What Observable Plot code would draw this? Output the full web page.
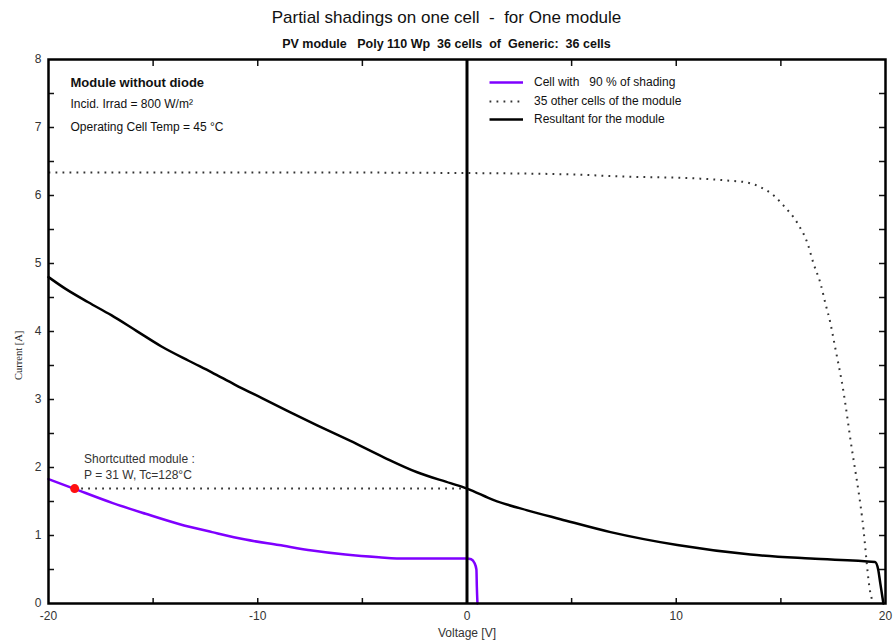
<!DOCTYPE html>
<html>
<head>
<meta charset="utf-8">
<script src="https://cdn.jsdelivr.net/npm/d3@7"></script>
<script src="https://cdn.jsdelivr.net/npm/@observablehq/plot@0.6"></script>
<style>
  html, body { margin: 0; padding: 0; background: #fff; }
  #wrap { position: relative; width: 893px; height: 643px; }
  .title { position: absolute; left: 0; width: 893px; text-align: center; white-space: pre; color: #111; }
  #t1 { top: 8px; font: 17px "Liberation Sans Narrow", "Liberation Sans", Arial, sans-serif; }
  #t2 { top: 37px; font: bold 12.5px "Liberation Sans Narrow", "Liberation Sans", Arial, sans-serif; }
  svg { position: absolute; left: 0; top: 0; }
</style>
</head>
<body>
<div id="wrap">
  <div class="title" id="t1">Partial shadings on one cell  -  for One module</div>
  <div class="title" id="t2">PV module   Poly 110 Wp  36 cells  of  Generic:  36 cells</div>
</div>
<script>
// Resultant I-V curve of the module
const voltBlack = [-20, -19.2, -18.1, -17, -15.8, -14.6, -13.3, -12.2, -11.1, -9.8, -8.75, -7.16, -5.57, -3.98, -2.38, -0.79, 0, 1.28, 2.88, 4.47, 6.86, 10.05, 13.55, 16.42, 19.5, 19.65, 19.75, 19.85, 19.9];
const currBlack = [4.8, 4.63, 4.43, 4.24, 4.01, 3.78, 3.57, 3.40, 3.22, 3.02, 2.86, 2.62, 2.39, 2.15, 1.93, 1.77, 1.69, 1.52, 1.37, 1.24, 1.05, 0.86, 0.72, 0.66, 0.61, 0.5, 0.3, 0.1, 0];
// Cell with 90 % shading
const voltCell = [-20, -18.79, -16.96, -15.36, -13.77, -12.18, -10.59, -8.99, -7.4, -5.81, -4.21, -2.94, 0, 0.2, 0.35, 0.45, 0.47, 0.5];
const currCell = [1.83, 1.69, 1.48, 1.32, 1.17, 1.05, 0.94, 0.86, 0.78, 0.72, 0.68, 0.66, 0.66, 0.65, 0.6, 0.5, 0.25, 0];
// 35 other cells of the module
const voltOther = [-20, -10, 0, 5, 7.34, 11.02, 12.45, 13.4, 14.04, 14.66, 15.13, 15.8, 16.28, 16.56, 16.89, 17.13, 17.37, 17.56, 18.0, 18.33, 18.9, 19.28, 19.43];
const currOther = [6.34, 6.34, 6.33, 6.31, 6.28, 6.25, 6.22, 6.19, 6.12, 6.0, 5.85, 5.59, 5.29, 5.0, 4.71, 4.41, 4.12, 3.82, 3.1, 2.4, 1.22, 0.15, 0];
// Short-circuited module operating point
const shortV = [-18.75];
const shortI = [1.69];
// ticks
const xTickLabels = [-20, -10, 0, 10, 20];
const xTickMarks = [-15, -10, -5, 0, 5, 10, 15];
const yTickLabels = [0, 1, 2, 3, 4, 5, 6, 7, 8];
const yTickMarks = [0.5, 1, 1.5, 2, 2.5, 3, 3.5, 4, 4.5, 5, 5.5, 6, 6.5, 7, 7.5];
// texts
const infoLines = ["Module without diode", "Incid. Irrad = 800 W/m²", "Operating Cell Temp = 45 °C"];
const legendLabels = ["Cell with   90 % of shading", "35 other cells of the module", "Resultant for the module"];
const shortLabels = ["Shortcutted module :", "P = 31 W, Tc=128°C"];

const black = voltBlack.map((v, i) => ({V: v, I: currBlack[i]}));
const cell = voltCell.map((v, i) => ({V: v, I: currCell[i]}));
const other = voltOther.map((v, i) => ({V: v, I: currOther[i]}));
const shortPt = shortV.map((v, i) => ({V: v, I: shortI[i]}));

const W = 893, H = 643, mL = 48, mR = 8, mT = 59, mB = 40;
const pw = W - mL - mR, ph = H - mT - mB;
const font = "Liberation Sans, Arial, sans-serif";
const purple = "#7f00ff";
const dash = "1.8,5.2";

const infoDy = [23, 45, 68];
const legDy = [23, 42, 60];
const legStroke = [purple, "#333", "#000"];
const shortDy = [-29, -13];

const chart = Plot.plot({
  width: W, height: H,
  marginLeft: mL, marginRight: mR, marginTop: mT, marginBottom: mB,
  style: {fontFamily: font, fontSize: "12px", background: "white", color: "#222"},
  x: {domain: [-20, 20]},
  y: {domain: [0, 8]},
  marks: [
    Plot.axisX(xTickLabels, {tickSize: 0, tickPadding: 8, label: null, fontSize: 12, fill: "#333", tickFormat: d => String(d)}),
    Plot.axisY(yTickLabels, {tickSize: 0, tickPadding: 7, label: null, fontSize: 12, fill: "#333", tickFormat: d => String(d)}),
    // inward tick marks
    Plot.tickY(yTickMarks, {y: d => d, insetRight: pw - 6, stroke: "#111", strokeWidth: 1.5}),
    Plot.tickY(yTickMarks, {y: d => d, insetLeft: pw - 6, stroke: "#111", strokeWidth: 1.5}),
    Plot.tickX(xTickMarks, {x: d => d, insetBottom: ph - 7, stroke: "#111", strokeWidth: 1.5}),
    Plot.tickX(xTickMarks, {x: d => d, insetTop: ph - 5, stroke: "#111", strokeWidth: 1.5}),
    // curves
    Plot.line(other, {x: "V", y: "I", curve: "monotone-x", stroke: "#333", strokeWidth: 2, strokeDasharray: dash, strokeLinecap: "butt"}),
    Plot.ruleY(shortPt, {y: "I", x1: "V", x2: () => 0, stroke: "#333", strokeWidth: 2, strokeDasharray: dash}),
    Plot.line(black, {x: "V", y: "I", curve: "monotone-x", stroke: "#000", strokeWidth: 2.5}),
    Plot.line(cell, {x: "V", y: "I", curve: "monotone-x", stroke: purple, strokeWidth: 2.5}),
    Plot.ruleX([0], {stroke: "#000", strokeWidth: 3}),
    Plot.dot(shortPt, {x: "V", y: "I", r: 4.5, fill: "#ff1010", stroke: "none"}),
    Plot.frame({stroke: "#000", strokeWidth: 2.5}),
    // info text
    ...infoLines.map((t, i) => Plot.text([t], {text: d => d, frameAnchor: "top-left", dx: 22, dy: infoDy[i],
      fontWeight: i === 0 ? "bold" : "normal", fontSize: i === 0 ? 13 : 12,
      textAnchor: "start", lineAnchor: "middle", fill: "#111"})),
    // legend
    ...legendLabels.map((t, i) => Plot.ruleY([t], {y: () => 8, dy: legDy[i], x1: () => 1.1, x2: () => 2.7,
      stroke: legStroke[i], strokeWidth: i === 1 ? 2 : 2.5, strokeDasharray: i === 1 ? dash : null})),
    ...legendLabels.map((t, i) => Plot.text([t], {text: d => d, x: () => 3.2, y: () => 8, dy: legDy[i],
      textAnchor: "start", lineAnchor: "middle", fontSize: 12, fill: "#111"})),
    // shortcut annotation
    ...shortLabels.map((t, i) => Plot.text([t], {text: d => d, x: () => -18.3, y: () => 1.69, dy: shortDy[i],
      textAnchor: "start", lineAnchor: "middle", fontSize: 12, fill: "#333"})),
    // axis titles
    Plot.text(["Voltage [V]"], {text: d => d, x: () => 0, y: () => 0, dy: 30, lineAnchor: "middle", fontSize: 12, fill: "#333"}),
    Plot.text(["Current [A]"], {text: d => d, x: () => -20, y: () => 3.65, dx: -30, rotate: -90, lineAnchor: "middle", fontSize: 10.5, fontFamily: "Liberation Serif, serif", fill: "#222"})
  ]
});
document.getElementById("wrap").prepend(chart);
</script>
</body>
</html>
